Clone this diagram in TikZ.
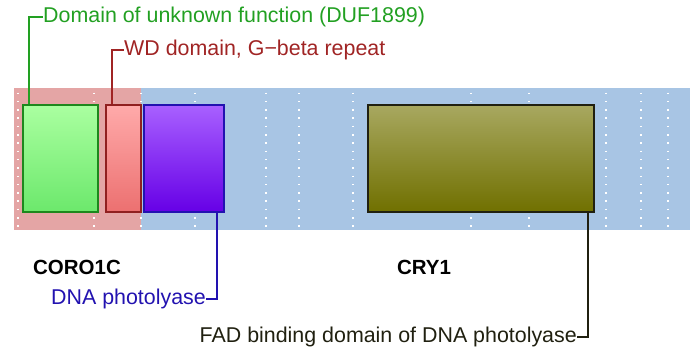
\documentclass[tikz,border=0pt]{standalone}
\usepackage{fontspec}
\setmainfont{Liberation Sans}
\definecolor{bgred}{HTML}{E4A5A5}
\definecolor{bgblue}{HTML}{A8C5E4}
\definecolor{cgreen}{HTML}{22A022}
\definecolor{cred}{HTML}{A02424}
\definecolor{cpurple}{HTML}{2212B0}
\definecolor{colive}{HTML}{202010}
\begin{document}
\begin{tikzpicture}[x=1pt,y=-1pt,
  dombox/.style={draw, line width=2pt, inner sep=0pt, minimum height=107pt},
  lbl/.style={inner sep=0pt, font=\fontsize{21.4}{25}\selectfont, text height=15pt, text depth=4pt},
  gene/.style={inner sep=0pt, font=\fontsize{20.5}{25}\selectfont\bfseries},
  conn/.style={line width=1.8pt},
  dots/.style={white, line width=1.5pt, dash pattern=on 1.5pt off 6.8pt}]
\useasboundingbox (0,0) rectangle (690,353);
\fill[bgred] (14,88) rectangle (141,230);
\fill[bgblue] (141,88) rectangle (690,230);
\foreach \xx in {18,94,141,195,266,299,353,471,529,606,641,668}
  \draw[dots] (\xx,92.5) -- (\xx,230);
\node[dombox, draw=cgreen!85!black, top color={rgb,255:red,170;green,255;blue,160}, bottom color={rgb,255:red,108;green,232;blue,108}, minimum width=75pt] (duf) at (60.5,158.5) {};
\node[dombox, draw=cred!90!black, top color={rgb,255:red,255;green,170;blue,170}, bottom color={rgb,255:red,236;green,112;blue,112}, minimum width=35pt] (wd) at (123.5,158.5) {};
\node[dombox, draw=cpurple, top color={rgb,255:red,168;green,96;blue,255}, bottom color={rgb,255:red,102;green,0;blue,230}, minimum width=80pt] (phot) at (184,158.5) {};
\node[dombox, draw=colive, top color={rgb,255:red,168;green,168;blue,96}, bottom color={rgb,255:red,112;green,112;blue,0}, minimum width=226pt] (fad) at (481,158.5) {};
\node[lbl, cgreen, anchor=west] (duflbl) at (43,17) {Domain of unknown function (DUF1899)};
\node[lbl, cred, anchor=west] (wdlbl) at (124,50) {WD domain, G\textminus beta repeat};
\node[lbl, cpurple, anchor=east] (photlbl) at (206,299) {DNA photolyase};
\node[lbl, colive, anchor=east] (fadlbl) at (577,337) {FAD binding domain of DNA photolyase};
\node[gene] (coro) at (77,267) {CORO1C};
\node[gene] (cry) at (424,267) {CRY1};
\draw[conn, cgreen] ([xshift=7pt]duf.north west) |- (duflbl.west);
\draw[conn, cred] ([xshift=7pt]wd.north west) |- (wdlbl.west);
\draw[conn, cpurple] ([xshift=-8pt]phot.south east) |- (photlbl.east);
\draw[conn, colive] ([xshift=-7pt]fad.south east) |- (fadlbl.east);
\end{tikzpicture}
\end{document}
